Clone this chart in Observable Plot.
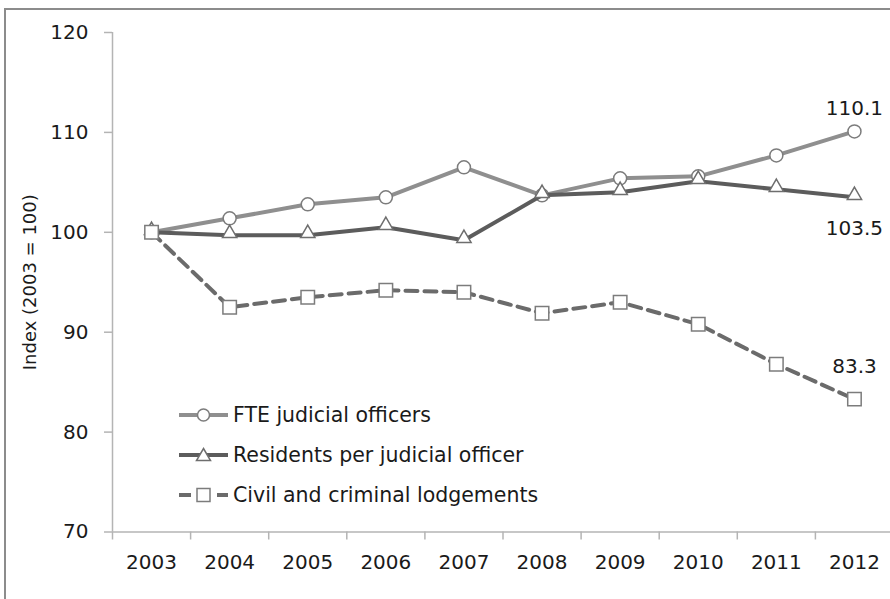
<!DOCTYPE html>
<html>
<head>
<meta charset="utf-8">
<script src="https://cdn.jsdelivr.net/npm/d3@7"></script>
<script src="https://cdn.jsdelivr.net/npm/@observablehq/plot@0.6"></script>
<style>
  html, body { margin: 0; padding: 0; background: #fff; width: 890px; height: 599px; overflow: hidden; }
  #frame { position: absolute; left: 4px; top: 8px; width: 1000px; height: 1000px; border: 2px solid #8c8c8c; box-sizing: border-box; }
  #chart { position: absolute; left: 0; top: 0; width: 900px; }
  #chart svg { max-width: none; }
  #legend { position: absolute; left: 179px; top: 395px; font-family: "DejaVu Sans", sans-serif; font-size: 20.5px; color: #1a1a1a; }
  #legend .row { display: flex; align-items: center; height: 40px; }
  #legend svg { flex: none; }
</style>
</head>
<body>
<div id="frame"></div>
<div id="chart"></div>
<div id="legend"></div>
<script>
// Index values, 2003 = 100
const years = [2003, 2004, 2005, 2006, 2007, 2008, 2009, 2010, 2011, 2012];
const fteOfficers = [100, 101.4, 102.8, 103.5, 106.5, 103.7, 105.4, 105.6, 107.7, 110.1];
const residentsPerOfficer = [100, 99.7, 99.7, 100.5, 99.2, 103.7, 104.0, 105.1, 104.3, 103.5];
const lodgements = [100, 92.5, 93.5, 94.2, 94.0, 91.9, 93.0, 90.8, 86.8, 83.3];
const yTicks = [70, 80, 90, 100, 110, 120];
const seriesNames = ["FTE judicial officers", "Residents per judicial officer", "Civil and criminal lodgements"];
const yTitle = "Index (2003 = 100)";

const rows = (values) => years.map((year, i) => ({year, value: values[i]}));
const last = (values) => [rows(values)[values.length - 1]];
// category boundaries for the x-axis tick marks
const bounds = years.map((y) => y - 0.5).concat([years[years.length - 1] + 0.5]);

const axisColor = "#b4b4b4";
const styles = {
  fte: {line: "#8f8f8f", marker: "#7c7c7c"},
  res: {line: "#5c5c5c", marker: "#6e6e6e"},
  lod: {line: "#6b6b6b", marker: "#7c7c7c", dash: "12,7"}
};

const chart = Plot.plot({
  width: 900,
  height: 599,
  marginLeft: 112,
  marginRight: 7,
  marginTop: 32,
  marginBottom: 67.5,
  style: {fontFamily: "DejaVu Sans, sans-serif", fontSize: "20px", color: "#1a1a1a", background: "transparent", overflow: "visible", maxWidth: "none"},
  x: {type: "linear", domain: [years[0] - 0.5, years[years.length - 1] + 0.5]},
  y: {domain: [yTicks[0], yTicks[yTicks.length - 1]]},
  marks: [
    Plot.ruleX([years[0] - 0.5], {stroke: axisColor, strokeWidth: 1.5}),
    Plot.ruleY([yTicks[0]], {stroke: axisColor, strokeWidth: 1.5}),
    Plot.axisY({ticks: yTicks, tickSize: 8, tickPadding: 16, stroke: axisColor, strokeWidth: 1.5, tickFormat: (d) => String(d), label: null}),
    Plot.axisX({ticks: bounds, tickSize: 8, stroke: axisColor, strokeWidth: 1.5, tickFormat: () => "", label: null}),
    Plot.axisX({ticks: years, tickSize: 0, tickPadding: 23, tickFormat: (d) => String(d), label: null}),
    Plot.text([yTitle], {frameAnchor: "left", dx: -82, rotate: -90, textAnchor: "middle", lineAnchor: "middle", fontSize: 18, fill: "#1a1a1a"}),

    // FTE judicial officers
    Plot.line(rows(fteOfficers), {x: "year", y: "value", stroke: styles.fte.line, strokeWidth: 4, strokeLinejoin: "round"}),
    Plot.dot(rows(fteOfficers), {x: "year", y: "value", r: 6.5, fill: "white", stroke: styles.fte.marker, strokeWidth: 1.5}),

    // Residents per judicial officer
    Plot.line(rows(residentsPerOfficer), {x: "year", y: "value", stroke: styles.res.line, strokeWidth: 4, strokeLinejoin: "round"}),
    Plot.dot(rows(residentsPerOfficer), {x: "year", y: "value", symbol: "triangle", r: 5.3, dy: -2, fill: "white", stroke: styles.res.marker, strokeWidth: 1.5}),

    // Civil and criminal lodgements
    Plot.line(rows(lodgements), {x: "year", y: "value", stroke: styles.lod.line, strokeWidth: 4, strokeDasharray: styles.lod.dash}),
    Plot.dot(rows(lodgements), {x: "year", y: "value", symbol: "square", r: 7.6, fill: "white", stroke: styles.lod.marker, strokeWidth: 1.5}),

    // end-of-series value labels
    Plot.text(last(fteOfficers), {x: "year", y: "value", text: (d) => d.value.toFixed(1), dy: -23, fontSize: 20, fill: "#1a1a1a"}),
    Plot.text(last(residentsPerOfficer), {x: "year", y: "value", text: (d) => d.value.toFixed(1), dy: 31, fontSize: 20, fill: "#1a1a1a"}),
    Plot.text(last(lodgements), {x: "year", y: "value", text: (d) => d.value.toFixed(1), dy: -33, fontSize: 20, fill: "#1a1a1a"})
  ]
});
document.getElementById("chart").appendChild(chart);

// legend swatches
const swatch = (key, shape) => {
  const s = styles[key];
  const dash = s.dash ? ` stroke-dasharray="${s.dash}"` : "";
  let marker;
  if (shape === "circle") marker = `<circle cx="24.5" cy="10" r="6" fill="white" stroke="${s.marker}" stroke-width="1.5"/>`;
  else if (shape === "triangle") marker = `<path d="M24.5,3.5 L31.5,15.5 L17.5,15.5 Z" fill="white" stroke="${s.marker}" stroke-width="1.5"/>`;
  else marker = `<rect x="18" y="3.5" width="13" height="13" fill="white" stroke="${s.marker}" stroke-width="1.5"/>`;
  return `<svg width="54" height="20"><line x1="0" y1="10" x2="49" y2="10" stroke="${s.line}" stroke-width="4"${dash}/>${marker}</svg>`;
};
const shapes = [["fte", "circle"], ["res", "triangle"], ["lod", "square"]];
document.getElementById("legend").innerHTML = seriesNames
  .map((name, i) => `<div class="row">${swatch(shapes[i][0], shapes[i][1])}<span>${name}</span></div>`)
  .join("");
</script>
</body>
</html>
